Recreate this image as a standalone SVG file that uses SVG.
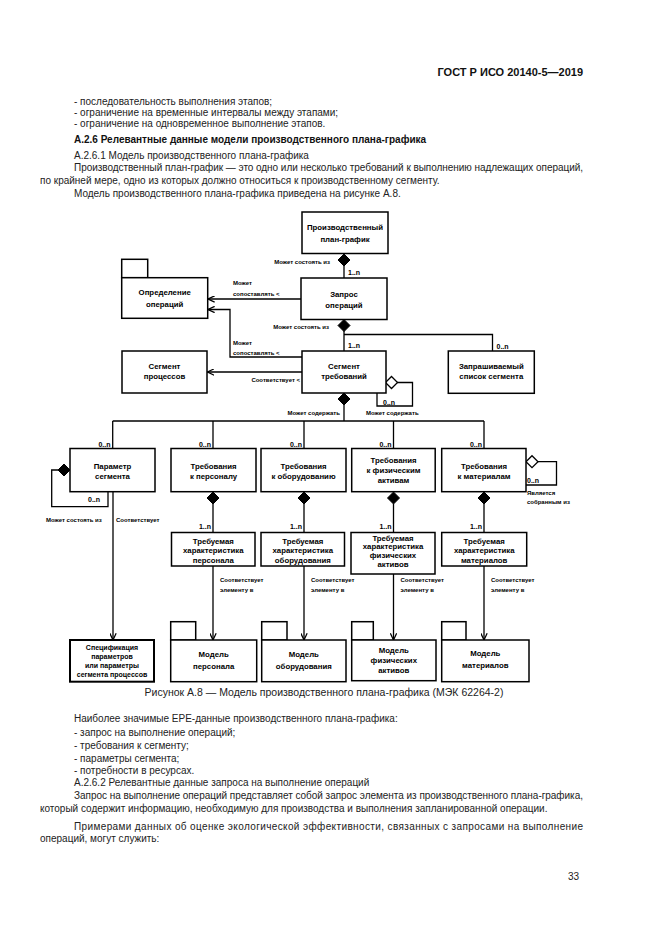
<svg xmlns="http://www.w3.org/2000/svg" width="661" height="935" viewBox="0 0 661 935">
<style>
.bg{fill:#ffffff}
.box{fill:#ffffff;stroke:#000;stroke-width:1.5}
.boxb{fill:#ffffff;stroke:#000;stroke-width:2}
.ln{fill:none;stroke:#000;stroke-width:1.3}
.fd{fill:#000;stroke:#000;stroke-width:1}
.od{fill:#fff;stroke:#000;stroke-width:1.3}
.t{font-family:"Liberation Sans",Arial,sans-serif;font-weight:bold;font-size:7.8px;text-anchor:middle;fill:#000}
.tsm{font-family:"Liberation Sans",Arial,sans-serif;font-weight:bold;font-size:7px;text-anchor:middle;fill:#000}
.s{font-family:"Liberation Sans",Arial,sans-serif;font-weight:bold;font-size:6px;fill:#000}
.se{font-family:"Liberation Sans",Arial,sans-serif;font-weight:bold;font-size:6px;fill:#000;text-anchor:end}
.m{font-family:"Liberation Sans",Arial,sans-serif;font-weight:bold;font-size:7px;fill:#000}
.me{font-family:"Liberation Sans",Arial,sans-serif;font-weight:bold;font-size:7px;fill:#000;text-anchor:end}
.b{font-family:"Liberation Sans",Arial,sans-serif;font-size:10px;fill:#222}
.c{font-family:"Liberation Sans",Arial,sans-serif;font-size:10.5px;fill:#222;text-anchor:middle}
.bb{font-family:"Liberation Sans",Arial,sans-serif;font-size:10px;font-weight:bold;fill:#111}
.h{font-family:"Liberation Sans",Arial,sans-serif;font-size:11px;font-weight:bold;fill:#111;text-anchor:end}
</style>
<defs>
<marker id="arr" viewBox="0 0 10 10" refX="9.5" refY="5" markerWidth="7" markerHeight="7" orient="auto" markerUnits="userSpaceOnUse">
<path d="M0,0.5 L9.5,5 L0,9.5" fill="none" stroke="#000" stroke-width="1.8"/>
</marker>
<path id="dv" d="M0,0 L6,6 L0,12 L-6,6 Z"/>
<path id="dh" d="M0,0 L6,-6 L12,0 L6,6 Z"/>
</defs>
<rect class="bg" x="0" y="0" width="661" height="935"/>

<!-- page text -->
<text class="h" x="583" y="76">ГОСТ Р ИСО 20140-5—2019</text>
<text class="b" x="74" y="104.5">- последовательность выполнения этапов;</text>
<text class="b" x="74" y="115.5">- ограничение на временные интервалы между этапами;</text>
<text class="b" x="74" y="127">- ограничение на одновременное выполнение этапов.</text>
<text class="bb" x="74" y="143">А.2.6  Релевантные данные модели производственного плана-графика</text>
<text class="b" x="74" y="159">А.2.6.1  Модель производственного плана-графика</text>
<text class="b" x="74" y="171" textLength="509" lengthAdjust="spacing">Производственный план-график — это одно или несколько требований к выполнению надлежащих операций,</text>
<text class="b" x="40" y="184">по крайней мере, одно из которых должно относиться к производственному сегменту.</text>
<text class="b" x="74" y="197">Модель производственного плана-графика приведена на рисунке А.8.</text>

<!-- connectors -->
<g id="connectors">
<path class="ln" d="M344,266 V278"/>
<path class="ln" d="M301,299 H208" marker-end="url(#arr)"/>
<path class="ln" d="M302,357 H230 V309.5 H208" marker-end="url(#arr)"/>
<path class="ln" d="M302,372 H207.5" marker-end="url(#arr)"/>
<path class="ln" d="M344,331 V351"/>
<path class="ln" d="M344,334.5 H492.5 V351"/>
<path class="ln" d="M344,405 V421"/>
<path class="ln" d="M397,382.5 H412.5 V406 H377 V393"/>
<path class="ln" d="M112.7,421 H484"/>
<path class="ln" d="M112.7,421 V448.5"/>
<path class="ln" d="M213,421 V448.5"/>
<path class="ln" d="M304,421 V448.5"/>
<path class="ln" d="M393.5,421 V448.5"/>
<path class="ln" d="M484,421 V448.5"/>
<path class="ln" d="M58,470 H51.7 V506.7 H108 V492"/>
<path class="ln" d="M113,492 V640" marker-end="url(#arr)"/>
<path class="ln" d="M537.5,461.7 H556.5 V485 H526"/>
<path class="ln" d="M213,504 V532"/>
<path class="ln" d="M304,504 V532"/>
<path class="ln" d="M393.5,504 V532"/>
<path class="ln" d="M484,504 V532"/>
<path class="ln" d="M213,566 V640" marker-end="url(#arr)"/>
<path class="ln" d="M304,566 V640" marker-end="url(#arr)"/>
<path class="ln" d="M393.5,574 V640" marker-end="url(#arr)"/>
<path class="ln" d="M484,566 V640" marker-end="url(#arr)"/>
<use href="#dv" class="fd" x="344" y="254"/>
<use href="#dv" class="fd" x="344" y="319.5"/>
<use href="#dv" class="fd" x="344" y="393"/>
<use href="#dh" class="od" x="385.5" y="382.5"/>
<use href="#dh" class="fd" x="58" y="470"/>
<use href="#dh" class="od" x="526" y="461.7"/>
<use href="#dv" class="fd" x="213" y="492"/>
<use href="#dv" class="fd" x="304" y="492"/>
<use href="#dv" class="fd" x="393.5" y="492"/>
<use href="#dv" class="fd" x="484" y="492"/>
<text class="se" x="330" y="263.5">Может состоять из</text>
<text class="m" x="348" y="275">1..n</text>
<text class="s" x="233" y="285">Может</text>
<text class="s" x="233" y="296">сопоставлять &lt;</text>
<text class="se" x="329" y="329">Может состоять из</text>
<text class="m" x="348" y="347.5">1..n</text>
<text class="s" x="233" y="345">Может</text>
<text class="s" x="233" y="355">сопоставлять &lt;</text>
<text class="se" x="300" y="381.5">Соответствует &lt;</text>
<text class="m" x="496.5" y="348.5">0..n</text>
<text class="se" x="340" y="415">Может содержать</text>
<text class="m" x="383" y="405">0..n</text>
<text class="s" x="366" y="415">Может содержать</text>
<text class="me" x="110.5" y="446.5">0..n</text>
<text class="me" x="211" y="446.5">0..n</text>
<text class="me" x="302" y="446.5">0..n</text>
<text class="me" x="391.5" y="446.5">0..n</text>
<text class="me" x="482" y="446.5">0..n</text>
<text class="m" x="88" y="501.5">0..n</text>
<text class="s" x="46" y="522">Может состоять из</text>
<text class="s" x="116" y="522">Соответствует</text>
<text class="m" x="527" y="483">0..n</text>
<text class="s" x="527" y="495">Является</text>
<text class="s" x="527" y="504">собранным из</text>
<text class="me" x="211" y="529">1..n</text>
<text class="me" x="302" y="529">1..n</text>
<text class="me" x="391.5" y="529">1..n</text>
<text class="me" x="482" y="529">1..n</text>
<text class="s" x="220" y="582">Соответствует</text>
<text class="s" x="220" y="592">элементу в</text>
<text class="s" x="311" y="582">Соответствует</text>
<text class="s" x="311" y="592">элементу в</text>
<text class="s" x="400.5" y="582">Соответствует</text>
<text class="s" x="400.5" y="592">элементу в</text>
<text class="s" x="491" y="582">Соответствует</text>
<text class="s" x="491" y="592">элементу в</text>
</g>

<!-- nodes -->
<g id="n-schedule"><rect class="box" x="302" y="212" width="86" height="41.5"/>
<text class="t" x="345" y="229.5">Производственный</text><text class="t" x="345" y="241.5">план-график</text></g>

<g id="n-request"><rect class="box" x="301" y="278" width="86" height="41.5"/>
<text class="t" x="344" y="296.5">Запрос</text><text class="t" x="344" y="307.5">операций</text></g>

<g id="n-opdef"><rect class="box" x="121.7" y="259.3" width="26" height="18.4"/><rect class="box" x="121.7" y="277.7" width="86" height="40.6"/>
<text class="t" x="164.7" y="295">Определение</text><text class="t" x="164.7" y="306.5">операций</text></g>

<g id="n-segreq"><rect class="box" x="302" y="351" width="84" height="42"/>
<text class="t" x="344" y="368.5">Сегмент</text><text class="t" x="344" y="379">требований</text></g>

<g id="n-procseg"><rect class="box" x="122" y="351" width="85" height="42"/>
<text class="t" x="164.5" y="368.5">Сегмент</text><text class="t" x="164.5" y="378.5">процессов</text></g>

<g id="n-reqlist"><rect class="box" x="448.3" y="351" width="86" height="42.3"/>
<text class="t" x="491.3" y="369">Запрашиваемый</text><text class="t" x="491.3" y="379">список сегмента</text></g>

<g id="n-param"><rect class="box" x="70" y="448.5" width="85" height="43.2"/>
<text class="t" x="112.5" y="468.5">Параметр</text><text class="t" x="112.5" y="478.5">сегмента</text></g>

<g id="n-reqpers"><rect class="box" x="171" y="448.5" width="85" height="43.2"/>
<text class="t" x="213.5" y="468.5">Требования</text><text class="t" x="213.5" y="478.5">к персоналу</text></g>

<g id="n-reqequip"><rect class="box" x="261" y="448.5" width="85" height="43.2"/>
<text class="t" x="303.5" y="468.5">Требования</text><text class="t" x="303.5" y="478.5">к оборудованию</text></g>

<g id="n-reqphys"><rect class="box" x="351.7" y="448.5" width="83.5" height="43.2"/>
<text class="t" x="393.5" y="463">Требования</text><text class="t" x="393.5" y="473">к физическим</text><text class="t" x="393.5" y="482.5">активам</text></g>

<g id="n-reqmat"><rect class="box" x="441.7" y="448.5" width="84.3" height="43.2"/>
<text class="t" x="484" y="468.5">Требования</text><text class="t" x="484" y="478.5">к материалам</text></g>

<g id="n-chpers"><rect class="box" x="171.5" y="532.5" width="83.5" height="33.5"/>
<text class="t" x="213.3" y="543.5">Требуемая</text><text class="t" x="213.3" y="553">характеристика</text><text class="t" x="213.3" y="562.5">персонала</text></g>

<g id="n-chequip"><rect class="box" x="261" y="532.5" width="83.5" height="33.5"/>
<text class="t" x="302.8" y="543.5">Требуемая</text><text class="t" x="302.8" y="553">характеристика</text><text class="t" x="302.8" y="562.5">оборудования</text></g>

<g id="n-chphys"><rect class="box" x="351" y="532.5" width="84" height="41.5"/>
<text class="t" x="393" y="540.5">Требуемая</text><text class="t" x="393" y="549">характеристика</text><text class="t" x="393" y="557.5">физических</text><text class="t" x="393" y="567">активов</text></g>

<g id="n-chmat"><rect class="box" x="441.7" y="532.5" width="85" height="33.5"/>
<text class="t" x="484.2" y="543.5">Требуемая</text><text class="t" x="484.2" y="553">характеристика</text><text class="t" x="484.2" y="562.5">материалов</text></g>

<g id="n-spec"><rect class="boxb" x="70" y="640" width="84" height="41.7"/>
<text class="tsm" x="112" y="649.5">Спецификация</text><text class="tsm" x="112" y="658.5">параметров</text><text class="tsm" x="112" y="667.5">или параметры</text><text class="tsm" x="112" y="676.5">сегмента процессов</text></g>

<g id="n-mpers"><rect class="box" x="170.7" y="621.7" width="25" height="18.3"/><rect class="box" x="170.7" y="640" width="86" height="41.7"/>
<text class="t" x="213.7" y="656.5">Модель</text><text class="t" x="213.7" y="668.5">персонала</text></g>

<g id="n-mequip"><rect class="box" x="261.7" y="621.7" width="25.3" height="18.3"/><rect class="box" x="261.7" y="640" width="84.3" height="41.7"/>
<text class="t" x="303.8" y="656.5">Модель</text><text class="t" x="303.8" y="668.5">оборудования</text></g>

<g id="n-mphys"><rect class="box" x="351.7" y="621.7" width="21.6" height="18.3"/><rect class="box" x="351.7" y="640" width="84.3" height="40.7"/>
<text class="t" x="393.8" y="652.5">Модель</text><text class="t" x="393.8" y="663">физических</text><text class="t" x="393.8" y="673">активов</text></g>

<g id="n-mmat"><rect class="box" x="441.7" y="621.7" width="24.3" height="18.3"/><rect class="box" x="441.7" y="640" width="87.3" height="41.7"/>
<text class="t" x="485.3" y="655.5">Модель</text><text class="t" x="485.3" y="667.5">материалов</text></g>

<text class="c" x="324" y="696">Рисунок А.8 — Модель производственного плана-графика (МЭК 62264-2)</text>
<text class="b" x="74" y="722">Наиболее значимые EPE-данные производственного плана-графика:</text>
<text class="b" x="74" y="736">- запрос на выполнение операций;</text>
<text class="b" x="74" y="749">- требования к сегменту;</text>
<text class="b" x="74" y="762">- параметры сегмента;</text>
<text class="b" x="74" y="774">- потребности в ресурсах.</text>
<text class="b" x="74" y="786">А.2.6.2  Релевантные данные запроса на выполнение операций</text>
<text class="b" x="74" y="799" textLength="509" lengthAdjust="spacing">Запрос на выполнение операций представляет собой запрос элемента из производственного плана-графика,</text>
<text class="b" x="40" y="812">который содержит информацию, необходимую для производства и выполнения запланированной операции.</text>
<text class="b" x="74" y="830" textLength="509" lengthAdjust="spacing">Примерами данных об оценке экологической эффективности, связанных с запросами на выполнение</text>
<text class="b" x="40" y="842">операций, могут служить:</text>
<text class="b" x="568" y="880">33</text>
</svg>
